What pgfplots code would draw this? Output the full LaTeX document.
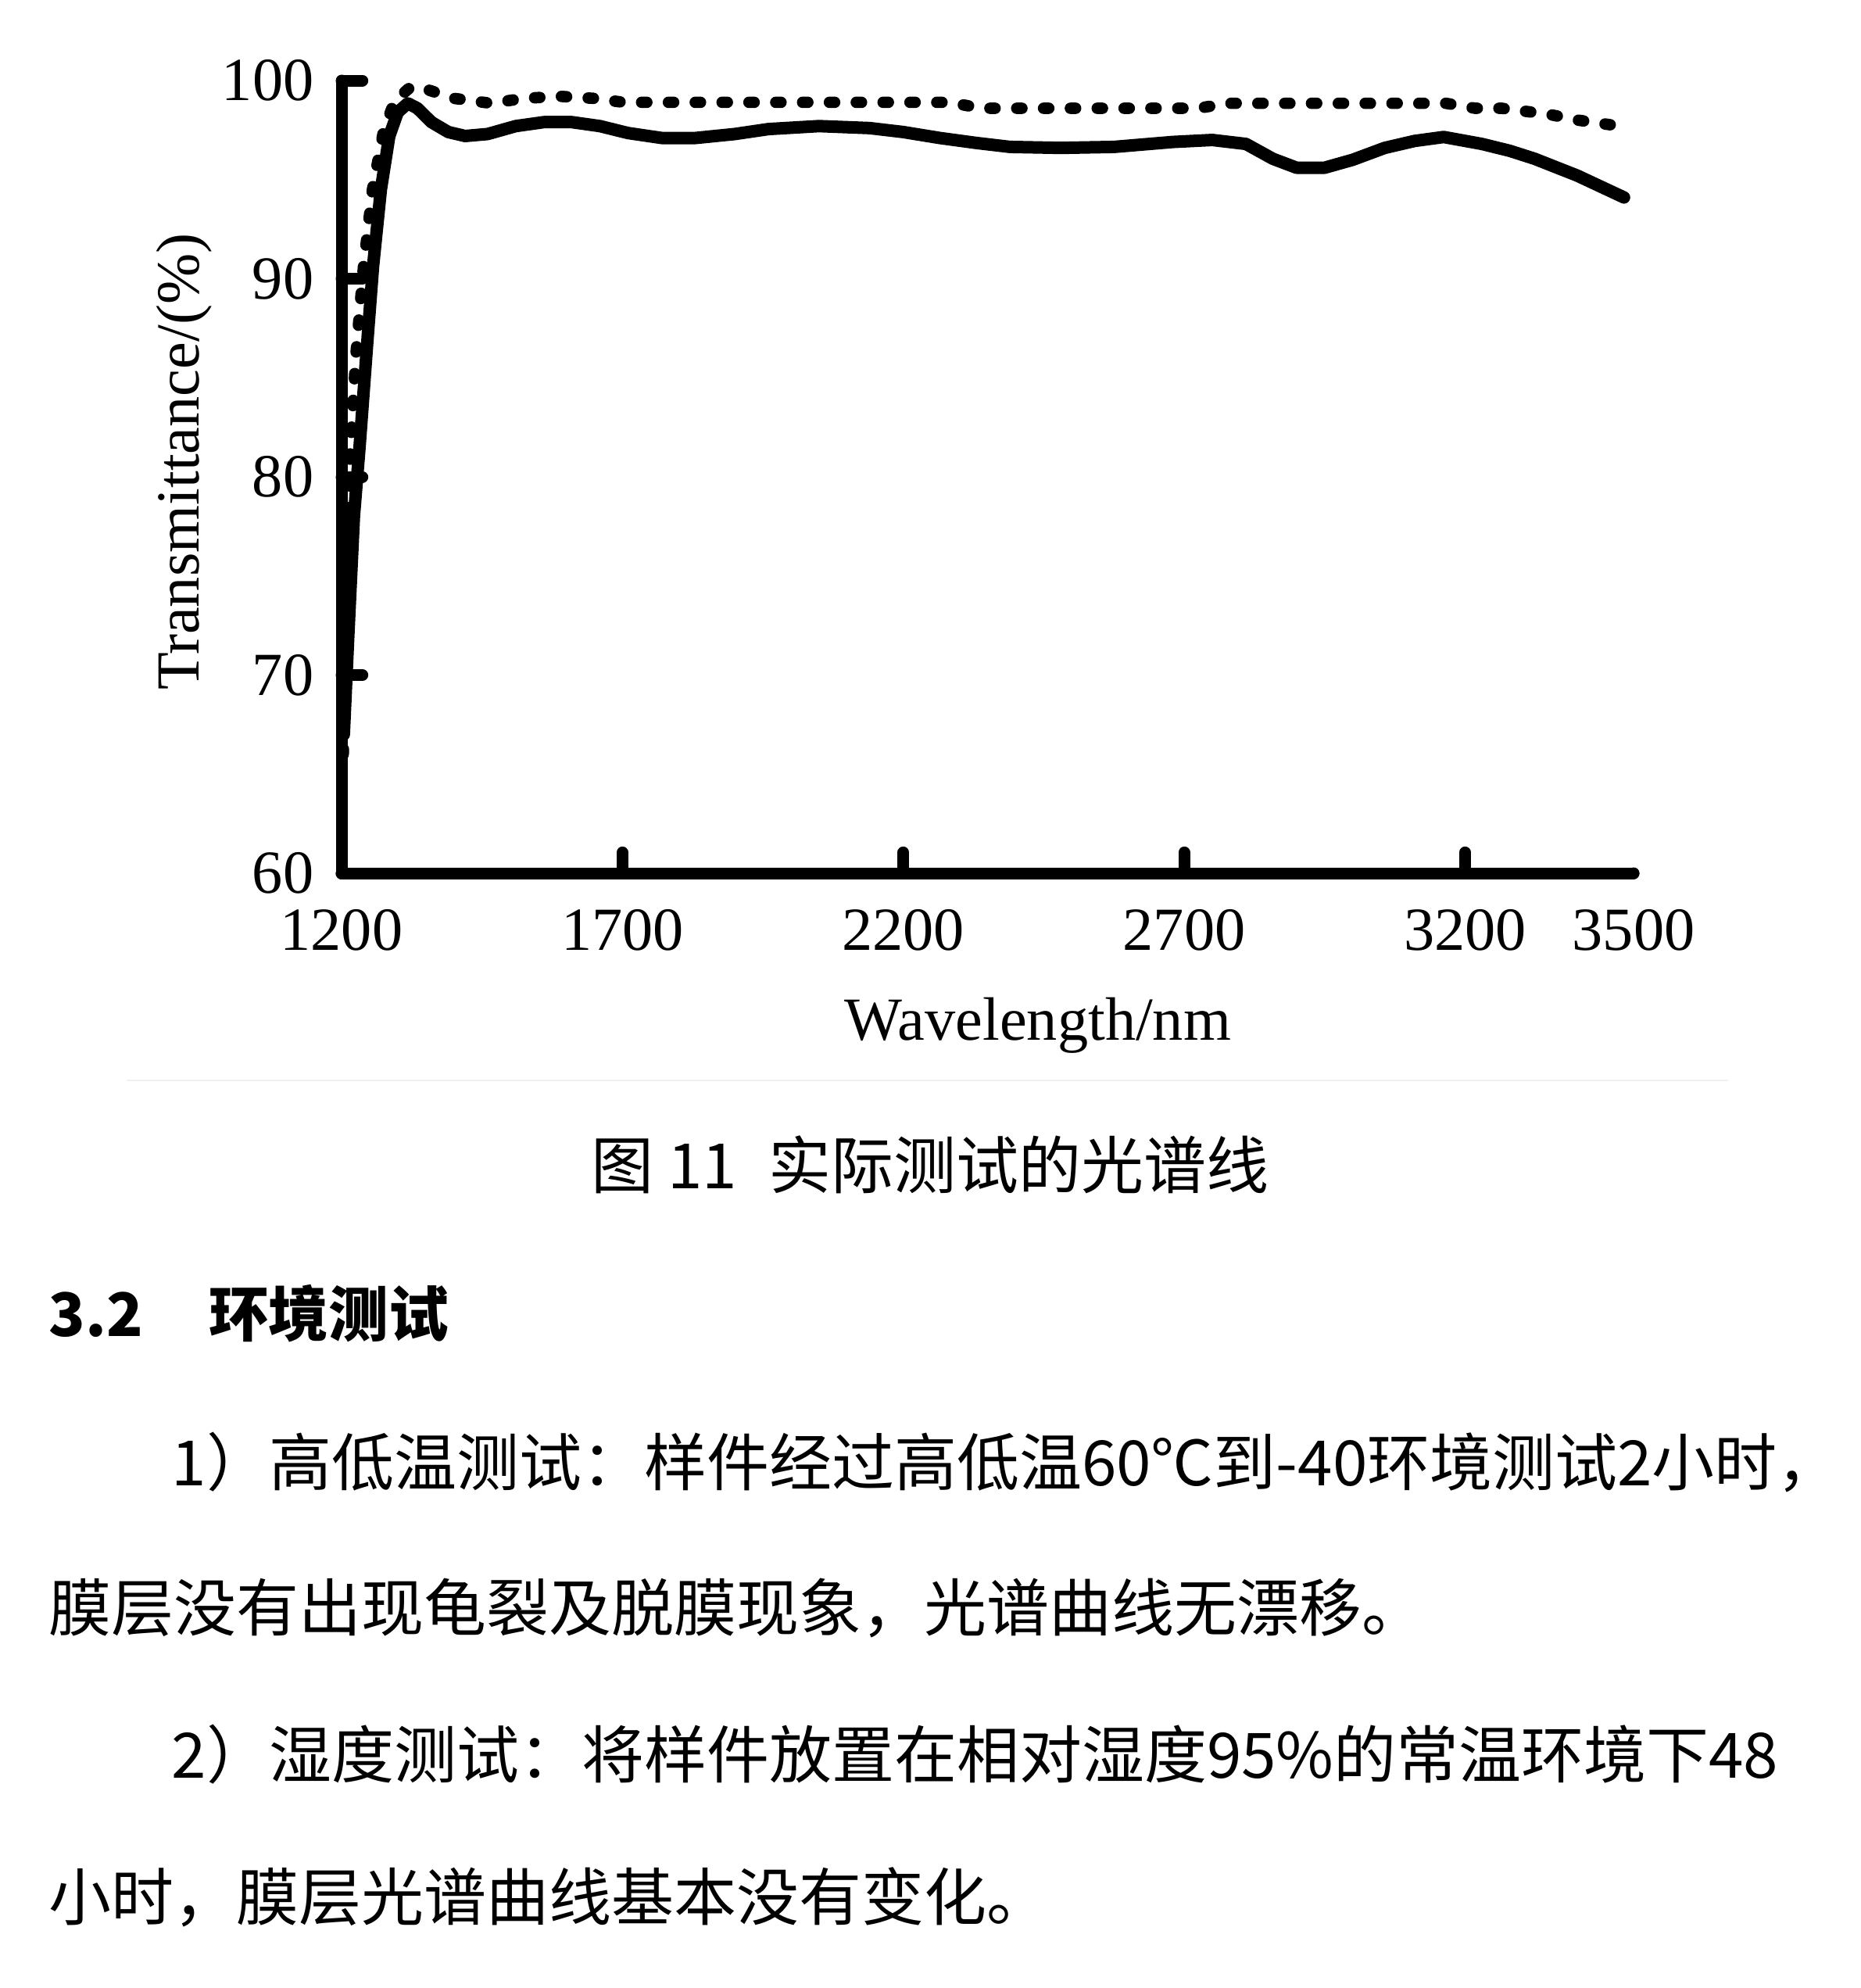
\documentclass[border=0pt]{standalone}
\usepackage{fontspec}
\setmainfont{Liberation Serif}
\newfontfamily\cjk{Noto Sans CJK SC}
\usepackage{pgfplots}
\pgfplotsset{compat=1.18}

\begin{document}
\begin{tikzpicture}
% page frame: 2381 x 2543 px at 0.3pt per px
\path[use as bounding box, fill=white] (0,0) rectangle (714.3pt,-762.9pt);
\draw[gray!12, line width=0.6pt] (48.6pt,-414.6pt) -- (663.3pt,-414.6pt);

\begin{axis}[
    at={(131.1pt,-335.1pt)}, anchor=south west,
    scale only axis, width=495.9pt, height=304.2pt,
    xmin=1200, xmax=3500, ymin=60, ymax=100,
    axis x line=bottom, axis y line=left,
    axis line style={-, line width=4.5pt, line cap=round},
    tick align=inside, major tick length=8pt,
    every tick/.style={black, line width=4.5pt, line cap=round},
    xtick={1200,1700,2200,2700,3200},
    extra x ticks={3500}, extra x tick style={major tick length=0pt},
    ytick={60,70,80,90,100},
    /pgf/number format/assume math mode=true,
    /pgf/number format/1000 sep={},
    xticklabel style={font=\fontsize{23.5}{28}\selectfont, inner sep=0pt, anchor=north},
    xticklabel shift=13.8pt,
    yticklabel style={font=\fontsize{23.5}{28}\selectfont, inner sep=0pt, anchor=east},
    yticklabel shift=10.5pt,
    xlabel={Wavelength/nm},
    ylabel={Transmittance/(\%)},
    xlabel style={font=\fontsize{23.5}{28}\selectfont, at={(axis description cs:0.539,-0.192)}, anchor=center},
    ylabel style={font=\fontsize{23.5}{28}\selectfont, at={(axis description cs:-0.122,0.519)}, anchor=center},
    clip=false,
]
% measured after test (dotted)
\addplot[black, line width=4.4pt, line cap=round, line join=round,
         dash pattern=on 2pt off 8.3pt] coordinates {
 (1203,66) (1208,71) (1215,81) (1225,86) (1239,90.6) (1255,94.5) (1275,97.5)
 (1295,99.0) (1320,99.6) (1340,99.7) (1357,99.5) (1400,99.1) (1466,98.85)
 (1524,99.1) (1590,99.2) (1649,99.1) (1702,98.9) (1770,98.9) (1900,98.9)
 (2100,98.9) (2283,98.9) (2338,98.6) (2500,98.6) (2658,98.6) (2725,98.6)
 (2777,98.85) (2900,98.85) (3050,98.85) (3166,98.85) (3218,98.6) (3265,98.6)
 (3348,98.3) (3401,98.0) (3463,97.75)
};
% measured (solid)
\addplot[black, line width=4.8pt, line cap=round, line join=round] coordinates {
 (1204,67) (1212,72) (1222,78) (1232,81.5) (1245,86.5) (1256,90.6) (1270,94.5)
 (1285,97.2) (1300,98.4) (1318,98.85) (1335,98.6) (1360,97.9) (1390,97.4)
 (1420,97.2) (1460,97.3) (1510,97.7) (1560,97.9) (1610,97.9) (1660,97.7)
 (1710,97.35) (1770,97.1) (1830,97.1) (1900,97.3) (1960,97.55) (2050,97.7)
 (2140,97.6) (2200,97.4) (2265,97.1) (2330,96.85) (2390,96.65) (2480,96.6)
 (2575,96.65) (2680,96.9) (2750,97.0) (2810,96.8) (2858,96.05) (2900,95.6)
 (2950,95.6) (3000,96.0) (3057,96.6) (3110,96.95) (3162,97.15) (3230,96.8)
 (3280,96.45) (3324,96.05) (3400,95.2) (3483,94.1)
};
\end{axis}

\node[inner sep=0pt, anchor=center, font=\cjk\fontsize{24}{28}\selectfont]
  at (357pt,-447pt) {图 11\hspace{0.5em}实际测试的光谱线};
\node[inner sep=0pt, anchor=west, font=\cjk\bfseries\fontsize{23}{28}\selectfont]
  at (18.6pt,-504pt) {3.2\hspace{1.1em}环境测试};
\node[inner sep=0pt, anchor=west, font=\cjk\fontsize{24}{28}\selectfont]
  at (65.7pt,-561.3pt) {1）高低温测试：样件经过高低温60℃到-40环境测试2小时，};
\node[inner sep=0pt, anchor=west, font=\cjk\fontsize{24}{28}\selectfont]
  at (18.6pt,-617.1pt) {膜层没有出现龟裂及脱膜现象，光谱曲线无漂移。};
\node[inner sep=0pt, anchor=west, font=\cjk\fontsize{24}{28}\selectfont]
  at (65.7pt,-673.2pt) {2）湿度测试：将样件放置在相对湿度95\%的常温环境下48};
\node[inner sep=0pt, anchor=west, font=\cjk\fontsize{24}{28}\selectfont]
  at (18.6pt,-728.1pt) {小时，膜层光谱曲线基本没有变化。};
\end{tikzpicture}
\end{document}
